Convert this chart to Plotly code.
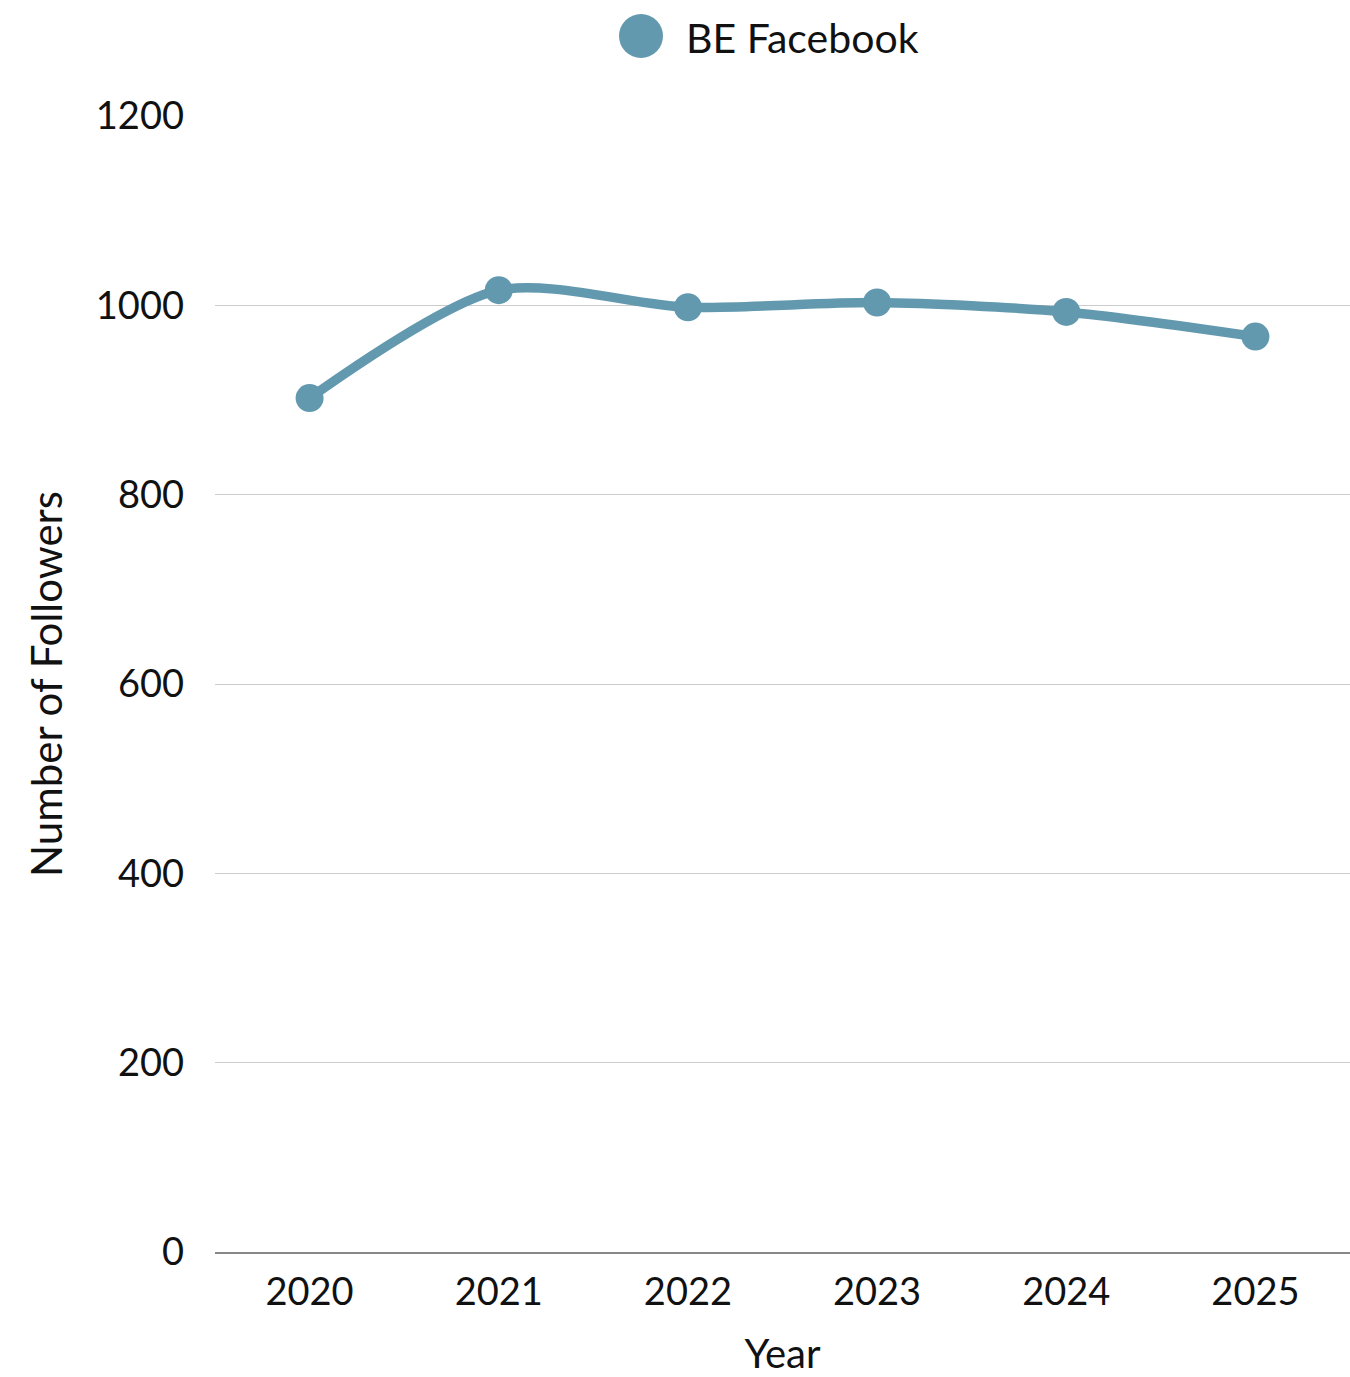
import plotly.graph_objects as go

years = ["2020", "2021", "2022", "2023", "2024", "2025"]
followers = [902, 1016, 998, 1003, 993, 967]
series_name = "BE Facebook"
y_ticks = [0, 200, 400, 600, 800, 1000, 1200]

color = "#6299AF"
font_family = "Lato, 'Source Sans Pro', sans-serif"

fig = go.Figure()
fig.add_trace(go.Scatter(
    x=years, y=followers, name=series_name,
    mode="lines+markers",
    line=dict(color=color, width=9.5, shape="spline", smoothing=0.8),
    marker=dict(color=color, size=28),
    showlegend=False,
))

# Legend: large circle swatch plus label, centred above the plot
fig.add_shape(type="circle", xref="paper", yref="paper",
              xsizemode="pixel", ysizemode="pixel",
              xanchor=(641 - 215) / 1135, yanchor=1 + (116 - 36) / 1136,
              x0=-22, x1=22, y0=-22, y1=22,
              fillcolor=color, line=dict(width=0))
fig.add_annotation(text=series_name, xref="paper", yref="paper",
                   x=(684 - 215) / 1135, y=1 + (116 - 37) / 1136,
                   xanchor="left", yanchor="middle", showarrow=False,
                   font=dict(size=41, color="#111111", family=font_family))

fig.update_layout(
    width=1350, height=1377,
    margin=dict(l=215, r=0, t=116, b=125),
    plot_bgcolor="white", paper_bgcolor="white",
    font=dict(family=font_family, size=38, color="#111111"),
    xaxis=dict(
        type="category", range=[-0.5, 5.5],
        showgrid=False, showline=True, linecolor="#888888", linewidth=1.5,
        ticks="", ticklabelstandoff=6,
        title=dict(text="Year", font=dict(size=40), standoff=30),
    ),
    yaxis=dict(
        range=[0, 1200], tickvals=y_ticks,
        showgrid=True, gridcolor="#cccccc", gridwidth=1,
        zeroline=False, showline=False, ticks="", ticklabelstandoff=30,
        title=dict(text="Number of Followers", font=dict(size=42), standoff=20),
    ),
)

fig.write_html("out.html")
